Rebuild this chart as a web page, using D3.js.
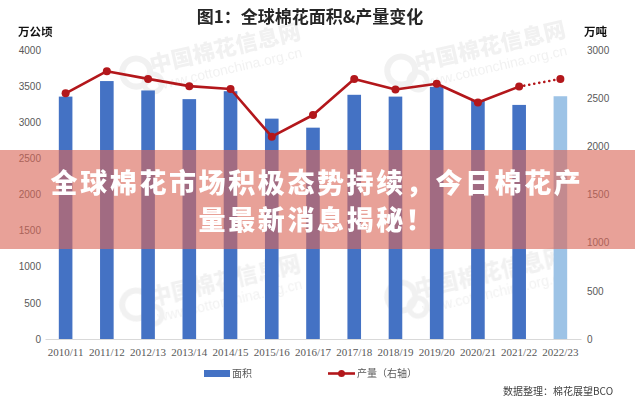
<!DOCTYPE html>
<html>
<head>
<meta charset="utf-8">
<script src="https://cdn.jsdelivr.net/npm/d3@7"></script>
<style>
  html, body { margin: 0; padding: 0; background: #fff; }
  svg { display: block; }
</style>
</head>
<body>
<svg id="chart" width="635" height="400"></svg>
<script>
// ---- Data ----
const seasons = ["2010/11","2011/12","2012/13","2013/14","2014/15","2015/16","2016/17","2017/18","2018/19","2019/20","2020/21","2021/22","2022/23"];
const area = [3355, 3570, 3440, 3320, 3430, 3050, 2925, 3380, 3355, 3490, 3300, 3240, 3360];      // 万公顷 (left axis)
const output = [2550, 2780, 2700, 2625, 2595, 2100, 2325, 2700, 2590, 2650, 2455, 2620, 2700];    // 万吨 (right axis)
const leftTicks = [0, 500, 1000, 1500, 2000, 2500, 3000, 3500, 4000];
const rightTicks = [0, 500, 1000, 1500, 2000, 2500, 3000];
const forecastIndex = 12; // last season: lighter bar, dotted line segment

const titleText = "图1：全球棉花面积&产量变化";
const leftUnit = "万公顷";
const rightUnit = "万吨";
const legendArea = "面积";
const legendOutput = "产量（右轴）";
const sourceText = "数据整理：棉花展望BCO";
const bannerLines = ["全球棉花市场积极态势持续，今日棉花产", "量最新消息揭秘！"];
const watermarkName = "中国棉花信息网";
const watermarkUrl = "www.cottonchina.org.cn";

// ---- Layout ----
const svg = d3.select("#chart");
const plot = { left: 45, right: 581, top: 50, bottom: 339 };
const barColor = "#4472C4", barForecast = "#9DC3E6", lineColor = "#B3171B";
const tickColor = "#595959";

const x = d3.scaleBand().domain(seasons).range([plot.left, plot.right]).paddingInner(0.67).paddingOuter(0.335);
const yL = d3.scaleLinear().domain([0, 4000]).range([plot.bottom, plot.top]);
const yR = d3.scaleLinear().domain([0, 3000]).range([plot.bottom, plot.top]);

// ---- Watermarks (faint) ----
const wm = svg.append("g").attr("opacity", 0.08).attr("fill", "#555");
const wmPos = [[225, 48], [490, 46], [225, 280], [490, 272]];
wmPos.forEach(([cx, cy]) => {
  const g = wm.append("g").attr("transform", `translate(${cx},${cy}) rotate(-13)`);
  g.append("circle").attr("cx", -92).attr("cy", 4).attr("r", 14).attr("fill", "none").attr("stroke", "#555").attr("stroke-width", 6);
  g.append("circle").attr("cx", -78).attr("cy", 18).attr("r", 9).attr("fill", "none").attr("stroke", "#555").attr("stroke-width", 5);
  g.append("text").attr("text-anchor", "middle").attr("font-family", "Noto Sans CJK SC").attr("font-weight", 900)
    .attr("font-size", 22).attr("y", 8).text(watermarkName);
  g.append("text").attr("text-anchor", "middle").attr("font-family", "Liberation Sans")
    .attr("font-size", 14).attr("y", 26).text(watermarkUrl);
});

// ---- Title & units ----
svg.append("text").attr("x", 310).attr("y", 23).attr("text-anchor", "middle")
  .attr("font-family", "Noto Sans CJK SC").attr("font-weight", 700).attr("font-size", 17)
  .attr("fill", "#262626").text(titleText);
svg.append("text").attr("x", 18).attr("y", 36).attr("font-family", "Noto Sans CJK SC")
  .attr("font-weight", 700).attr("font-size", 11.5).attr("fill", "#111").text(leftUnit);
svg.append("text").attr("x", 584).attr("y", 36).attr("font-family", "Noto Sans CJK SC")
  .attr("font-weight", 700).attr("font-size", 11.5).attr("fill", "#111").text(rightUnit);

// ---- Axes ----
const axL = svg.append("g").attr("transform", `translate(${plot.left - 4},0)`)
  .call(d3.axisLeft(yL).tickValues(leftTicks).tickSize(0).tickPadding(0).tickFormat(d3.format("d")));
const axR = svg.append("g").attr("transform", `translate(${plot.right + 6},0)`)
  .call(d3.axisRight(yR).tickValues(rightTicks).tickSize(0).tickPadding(0).tickFormat(d3.format("d")));
[axL, axR].forEach(a => {
  a.select(".domain").remove();
  a.selectAll("text").attr("font-family", "Liberation Sans").attr("font-size", 10).attr("fill", tickColor);
});

const axX = svg.append("g").attr("transform", `translate(0,${plot.bottom})`)
  .call(d3.axisBottom(x).tickSize(0).tickPadding(9));
axX.select(".domain").attr("stroke", "#D9D9D9").attr("stroke-width", 1);
axX.selectAll("text").attr("font-family", "Liberation Serif").attr("font-size", 11).attr("fill", tickColor);

// ---- Bars ----
svg.append("g").selectAll("rect").data(seasons).join("rect")
  .attr("x", d => x(d)).attr("width", x.bandwidth())
  .attr("y", (d, i) => yL(area[i])).attr("height", (d, i) => yL(0) - yL(area[i]))
  .attr("fill", (d, i) => i === forecastIndex ? barForecast : barColor);

// ---- Line ----
const cx = d => x(d) + x.bandwidth() / 2;
const pts = seasons.map((d, i) => [cx(d), yR(output[i])]);
const line = d3.line();
svg.append("path").attr("d", line(pts.slice(0, forecastIndex)))
  .attr("fill", "none").attr("stroke", lineColor).attr("stroke-width", 2.6).attr("stroke-linejoin", "round");
svg.append("path").attr("d", line(pts.slice(forecastIndex - 1)))
  .attr("fill", "none").attr("stroke", lineColor).attr("stroke-width", 2.6)
  .attr("stroke-dasharray", "0.1,5").attr("stroke-linecap", "round");
svg.append("g").selectAll("circle").data(pts).join("circle")
  .attr("cx", d => d[0]).attr("cy", d => d[1]).attr("r", 4).attr("fill", lineColor);

// ---- Legend ----
const lg = svg.append("g").attr("font-family", "Noto Sans CJK SC").attr("font-size", 10).attr("fill", tickColor);
lg.append("rect").attr("x", 204).attr("y", 370).attr("width", 26).attr("height", 7).attr("fill", barColor);
lg.append("text").attr("x", 232).attr("y", 377).text(legendArea);
lg.append("line").attr("x1", 328).attr("x2", 355).attr("y1", 373.5).attr("y2", 373.5)
  .attr("stroke", lineColor).attr("stroke-width", 2.6);
lg.append("circle").attr("cx", 341.5).attr("cy", 373.5).attr("r", 3.5).attr("fill", lineColor);
lg.append("text").attr("x", 357).attr("y", 377).text(legendOutput);

svg.append("text").attr("x", 503).attr("y", 395).attr("font-family", "Noto Sans CJK SC")
  .attr("font-size", 10).attr("fill", "#404040").text(sourceText);

// ---- Overlay banner ----
svg.append("rect").attr("x", 0).attr("y", 150).attr("width", 635).attr("height", 99)
  .attr("fill", "rgb(218,103,89)").attr("fill-opacity", 0.62);
svg.append("g").selectAll("text").data(bannerLines).join("text")
  .attr("x", 317).attr("y", (d, i) => 193 + i * 37)
  .attr("text-anchor", "middle").attr("font-family", "Noto Sans CJK SC").attr("font-weight", 900)
  .attr("font-size", 27).attr("letter-spacing", 2.6).attr("fill", "#fff").text(d => d);
</script>
</body>
</html>
